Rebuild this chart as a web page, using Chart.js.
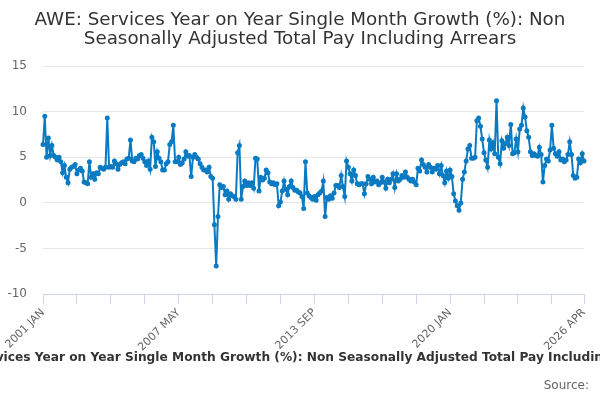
<!DOCTYPE html>
<html>
<head>
<meta charset="utf-8">
<script src="https://cdn.jsdelivr.net/npm/chart.js@4"></script>
<style>
  html, body { margin: 0; padding: 0; background: #fff; }
  #wrap { width: 600px; height: 400px; }
</style>
</head>
<body>
<div id="wrap"><canvas id="myChart"></canvas></div>
<script>
const titleLines = ['AWE: Services Year on Year Single Month Growth (%): Non', 'Seasonally Adjusted Total Pay Including Arrears']
const seriesName = 'AWE: Services Year on Year Single Month Growth (%): Non Seasonally Adjusted Total Pay Including Arrears'
const sourceText = 'Source:'

const monthNames = ['JAN', 'FEB', 'MAR', 'APR', 'MAY', 'JUN', 'JUL', 'AUG', 'SEP', 'OCT', 'NOV', 'DEC']
const firstYear = 2001

// monthly values, 2001 JAN .. 2026 APR
const growth = [
  6.4, 9.5, 5.0, 7.1, 5.2, 6.3, 5.2, 5.0, 4.7, 5.0, 4.5, 3.3,
  4.1, 2.8, 2.2, 3.7, 3.9, 4.0, 4.2, 3.2, 3.6, 3.8, 3.5, 2.3,
  2.2, 2.1, 4.5, 2.8, 3.2, 2.6, 3.3, 3.2, 3.9, 3.8, 3.7, 3.9,
  9.3, 3.9, 4.0, 3.9, 4.6, 4.3, 3.7, 4.2, 4.4, 4.5, 4.3, 4.8,
  4.9, 6.9, 4.6, 4.5, 4.9, 4.8, 5.2, 5.3, 4.9, 4.5, 4.1, 4.6,
  3.7, 7.2, 6.7, 4.0, 5.6, 4.9, 4.5, 3.6, 3.6, 4.3, 4.5, 6.4,
  6.7, 8.5, 4.5, 4.5, 5.0, 4.2, 4.4, 4.8, 5.6, 5.1, 5.2, 2.9,
  5.0, 5.3, 5.0, 4.8, 4.3, 3.9, 3.6, 3.6, 3.4, 3.9, 2.9, 2.7,
  -2.4, -6.9, -1.5, 2.0, 1.7, 1.8, 0.9, 1.3, 0.4, 1.0, 0.8, 0.7,
  0.4, 5.5, 6.3, 0.4, 1.8, 2.4, 1.9, 2.2, 1.9, 2.2, 1.6, 4.9,
  4.8, 1.3, 2.8, 2.5, 2.7, 3.6, 3.3, 2.3, 2.1, 2.2, 2.0, 2.1,
  -0.3, 0.1, 1.3, 2.4, 1.5, 0.9, 1.8, 2.4, 1.7, 1.4, 1.4, 1.2,
  1.1, 0.7, -0.6, 4.5, 1.1, 0.8, 0.6, 0.4, 0.7, 0.3, 0.9, 1.1,
  1.3, 2.4, -1.5, 0.6, 0.4, 0.8, 0.5, 1.1, 1.9, 1.9, 1.7, 3.0,
  1.8, 0.7, 4.6, 3.9, 3.2, 2.4, 3.6, 3.0, 2.1, 2.0, 2.1, 2.1,
  1.0, 2.1, 2.9, 2.6, 2.1, 2.8, 2.3, 2.4, 2.0, 2.2, 2.8, 2.3,
  1.6, 2.6, 2.2, 2.6, 3.2, 1.7, 3.2, 2.4, 2.6, 3.0, 2.8, 3.4,
  2.8, 2.6, 2.4, 2.6, 2.3, 2.0, 3.8, 3.5, 4.7, 4.2, 3.9, 3.4,
  4.2, 3.9, 3.4, 3.8, 3.7, 4.1, 3.2, 4.1, 3.0, 2.2, 3.5, 2.7,
  3.6, 2.9, 1.0, 0.2, -0.3, -0.8, 0.0, 2.6, 3.4, 4.6, 5.9, 6.3,
  4.9, 4.9, 5.0, 9.0, 9.3, 8.4, 7.0, 5.5, 4.7, 3.9, 6.9, 5.9,
  6.6, 5.4, 11.2, 5.0, 4.3, 6.8, 6.0, 6.5, 7.2, 6.3, 8.6, 5.4,
  5.5, 7.0, 5.6, 8.1, 8.5, 10.4, 9.4, 7.9, 7.2, 5.6, 5.2, 5.4,
  5.2, 5.1, 6.1, 5.3, 2.3, 4.1, 4.8, 4.6, 5.8, 8.5, 6.0, 5.4,
  5.1, 5.6, 4.7, 4.8, 4.5, 4.7, 5.3, 6.7, 5.3, 3.0, 2.7, 2.8,
  4.8, 4.4, 5.4, 4.6
]

const months = growth.map((v, i) => (firstYear + Math.floor(i / 12)) + ' ' + monthNames[i % 12])
const shownLabels = ['2001 JAN', '2007 MAY', '2013 SEP', '2020 JAN', '2026 APR']
const yTicks = [-10, -5, 0, 5, 10, 15]
const tickStep = 19

const font = 'DejaVu Sans'

// title above, series name and source under the axis (centred on the page)
const pageText = {
  id: 'pageText',
  afterDraw(chart) {
    const c = chart.ctx
    const mid = chart.width / 2
    c.save()
    c.textBaseline = 'middle'
    c.textAlign = 'center'
    c.fillStyle = '#333'
    c.font = '18.3px "' + font + '"'
    c.fillText(titleLines[0], mid, 20)
    c.fillText(titleLines[1], mid, 39)
    c.font = 'bold 12.2px "' + font + '"'
    c.fillText(seriesName, mid, 358)
    c.fillStyle = '#666'
    c.font = '12px "' + font + '"'
    c.textAlign = 'right'
    c.fillText(sourceText, 589, 386)
    c.restore()
  }
}

const ctx = document.getElementById('myChart').getContext('2d')
const myChart = new Chart(ctx, {
  type: 'line',
  data: {
    labels: months,
    datasets: [{
      label: seriesName,
      data: growth,
      borderColor: '#0a7bc2',
      backgroundColor: '#0a7bc2',
      borderWidth: 2,
      pointRadius: 1.5,
      pointHoverRadius: 3,
      tension: 0
    }]
  },
  options: {
    responsive: true,
    maintainAspectRatio: false,
    animation: false,
    layout: { padding: { top: 66, right: 16, bottom: 44, left: 4 } },
    plugins: {
      legend: { display: false },
      tooltip: { enabled: false },
      title: { display: false }
    },
    scales: {
      x: {
        type: 'category',
        offset: false,
        afterBuildTicks: (axis) => {
          axis.ticks = axis.ticks.filter(t => t.value % tickStep === 0 || t.value === growth.length - 1)
        },
        ticks: {
          autoSkip: false,
          maxRotation: 45,
          minRotation: 45,
          color: '#666',
          font: { family: font, size: 11 },
          padding: 2,
          callback: function (value) {
            const lab = this.getLabelForValue(value)
            return shownLabels.includes(lab) ? lab : ''
          }
        },
        grid: {
          display: true,
          drawOnChartArea: false,
          drawTicks: true,
          tickLength: 10,
          color: '#ccd6eb'
        },
        border: { display: true, color: '#ccd6eb', width: 1 }
      },
      y: {
        min: -10,
        max: 15,
        afterBuildTicks: (axis) => {
          axis.ticks = yTicks.map(v => ({ value: v }))
        },
        afterFit: (axis) => {
          axis.width = 39
        },
        ticks: {
          color: '#666',
          font: { family: font, size: 12 },
          padding: 16
        },
        grid: { color: '#e6e6e6', drawTicks: false },
        border: { display: false }
      }
    }
  },
  plugins: [pageText]
})
</script>
</body>
</html>
